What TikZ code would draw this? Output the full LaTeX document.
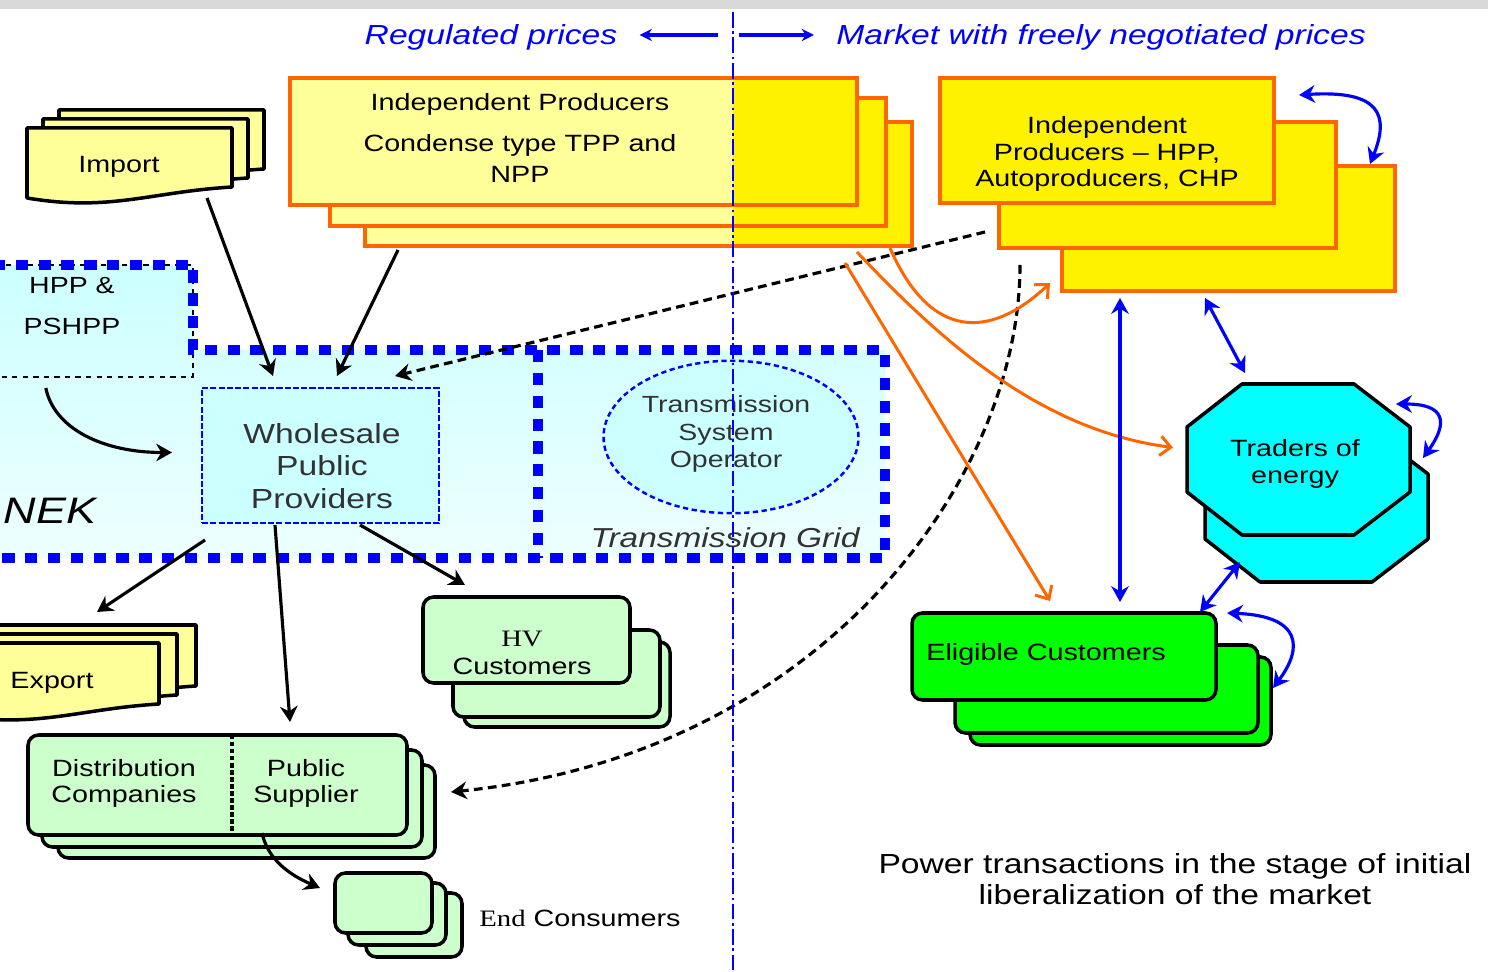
\documentclass[tikz,border=0pt]{standalone}
\usepackage{fontspec}
\setmainfont{Liberation Sans}[FakeStretch=1.22]
\newfontfamily\hvserif{Liberation Serif}[FakeStretch=1.22]
\usetikzlibrary{positioning,arrows.meta,shapes.geometric,calc,fit}

\definecolor{paleyellow}{RGB}{255,255,153}
\definecolor{prodorange}{RGB}{255,102,0}
\definecolor{nekcyan}{RGB}{204,255,255}
\definecolor{palegreen}{RGB}{204,255,204}
\definecolor{brightgreen}{RGB}{0,255,0}
\definecolor{tradecyan}{RGB}{0,255,255}
\definecolor{gridblue}{RGB}{0,0,255}
\definecolor{darktext}{RGB}{50,50,50}

\begin{document}
\begin{tikzpicture}[
  x=0.02cm, y=-0.02cm,
  >=Stealth,
  font=\fontsize{13.4}{15.5}\selectfont,
  txt/.style={inner sep=0pt, align=center},
  hdr/.style={txt, text=gridblue, font=\fontsize{15.7}{18}\selectfont\itshape},
  hdrarrow/.style={-{Stealth[length=7pt,width=7pt]}, line width=2.2pt, gridblue},
  prodbox/.style={draw=prodorange, line width=1.8pt, inner sep=0pt, outer sep=0pt},
  docshape/.style={draw=black, line width=2pt, fill=paleyellow, line join=round},
  lgreen/.style={draw=black, line width=2pt, fill=palegreen, rounded corners=6pt,
                 inner sep=0pt, outer sep=0pt},
  egreen/.style={draw=black, line width=2pt, fill=brightgreen, rounded corners=6pt,
                 inner sep=0pt, outer sep=0pt},
  octo/.style={draw=black, line width=2pt, fill=tradecyan, line join=round},
  nekline/.style={draw=gridblue, line width=5.5pt, dash pattern=on 7pt off 6pt},
  flow/.style={-{Stealth[length=9pt,width=10pt]}, line width=1.8pt},
  dflow/.style={flow, dash pattern=on 5pt off 3pt},
  mktflow/.style={-{Straight Barb[length=6pt,width=11pt]}, line width=1.7pt, prodorange},
  trade/.style={{Stealth[length=9pt,width=10pt]}-{Stealth[length=9pt,width=10pt]},
                line width=1.8pt, gridblue},
]
\useasboundingbox (0,0) rectangle (1488,972);
\fill[black!15] (0,0) rectangle (1488,9);

\coordinate (divtop) at (733,12);
\coordinate (divbot) at (733,975);

% --- Header ---
\node[hdr] (regtext) at (491,37) {Regulated prices};
\node[hdr] (mkttext) at (1101,37) {Market with freely negotiated prices};
\draw[hdrarrow] ($(regtext.east)+(100,-2)$) -- ($(regtext.east)+(22,-2)$);
\draw[hdrarrow] ($(mkttext.west)+(-97,-2)$) -- ($(mkttext.west)+(-22,-2)$);

% --- NEK area ---
\path[top color=nekcyan, bottom color=nekcyan!35]
  (-30,265) -- (193,265) -- (193,350) -- (885,350) -- (885,558) -- (-30,558) -- cycle;
\node[fit={(-30,265) (193,377)}, inner sep=0pt, outer sep=0pt,
      draw=black, line width=1.6pt, dashed] (hpp) {};
\draw[nekline] (-30,265) -- (193,265) -- (193,350) -- (885,350) -- (885,558) -- (-30,558);
\draw[nekline] (538,350) -- (538,558);
\node[txt, font=\fontsize{13.3}{23}\selectfont] (hpptext) at (72,306) {HPP \&\\PSHPP};
\node[txt, font=\fontsize{21}{24}\selectfont\itshape] (nek) at (50,511) {NEK};

\node[fit={(202,388) (439,523)}, inner sep=0pt, outer sep=0pt, draw=gridblue,
      line width=1.6pt, dash pattern=on 3.5pt off 1.2pt, fill=nekcyan] (wpp) {};
\node[txt, text=darktext, font=\fontsize{15.7}{18.4}\selectfont] (wpptext) at (322,466)
  {Wholesale\\Public\\Providers};

\node[ellipse, draw=gridblue, line width=1.4pt, dash pattern=on 3pt off 2pt, fill=nekcyan,
      minimum width=5.1cm, minimum height=3.05cm, inner sep=0pt] (tso) at (731,437) {};
\node[txt, text=darktext, font=\fontsize{13.3}{15.9}\selectfont] (tsotext) at (726,434)
  {Transmission\\System\\Operator};
\node[txt, text=darktext, font=\fontsize{15.6}{18}\selectfont\itshape] (grid) at (725,538)
  {Transmission Grid};

% --- Independent producers, regulated side ---
\foreach \nm/\xa/\ya/\xb/\yb in {iplA/365/122/912/246, iplB/330/98/886/226, iplC/290/78/857/205}{
  \node[prodbox, fill=paleyellow, fit={(\xa,\ya) (\xb,\yb)}] (\nm) {};
  \fill[yellow] (\nm.north west -| divtop) rectangle (\nm.south east);
  \draw[prodorange, line width=1.8pt] (\nm.north west) rectangle (\nm.south east);
}
\node[txt, font=\fontsize{13.4}{17.6}\selectfont] (ipltext) at (520,138)
  {Independent Producers\\[6pt]Condense type TPP and\\NPP};

% --- Independent producers, market side ---
\node[prodbox, fill=yellow, fit={(1062,166) (1395,291)}] (iprA) {};
\node[prodbox, fill=yellow, fit={(999,122) (1336,248)}] (iprB) {};
\node[prodbox, fill=yellow, fit={(940,78) (1274,203)}] (iprC) {};
\node[txt, font=\fontsize{13.4}{15.3}\selectfont] (iprtext) at (1107,154)
  {Independent\\Producers -- HPP,\\Autoproducers, CHP};

% --- Import / Export ---
\foreach \dx/\dy in {32/-18, 16/-9, 0/0}{
  \draw[docshape, shift={(\dx,\dy)}]
    (27,128) -- (232,128) -- (232,187) .. controls (150,192) and (110,212) .. (27,198) -- cycle;
}
\node[txt] (import) at (119,167) {Import};

\foreach \dx/\dy in {37/-18, 18/-9, 0/0}{
  \draw[docshape, shift={(\dx,\dy)}]
    (-46,643) -- (159,643) -- (159,704) .. controls (77,709) and (37,729) .. (-46,715) -- cycle;
}
\node[txt] (export) at (52,683) {Export};

% --- Customers and suppliers ---
\node[lgreen, fit={(464,642) (670,727)}] (hvA) {};
\node[lgreen, fit={(453,630) (660,717)}] (hvB) {};
\node[lgreen, fit={(423,597) (630,683)}] (hvC) {};
\node[txt] (hvtext) at (522,653) {{\hvserif HV}\\Customers};

\node[lgreen, fit={(58,765) (435,858)}] (dsA) {};
\node[lgreen, fit={(42,750) (422,847)}] (dsB) {};
\node[lgreen, fit={(28,735) (407,835)}] (dsC) {};
\draw[line width=2.5pt, dash pattern=on 2.5pt off 1.5pt]
  ($(dsC.north west)+(204,0)$) -- ($(dsC.south west)+(204,0)$);
\node[txt, font=\fontsize{13.4}{14.7}\selectfont] (distco) at (124,783) {Distribution\\Companies};
\node[txt, font=\fontsize{13.4}{14.7}\selectfont] (pubsup) at (306,783) {Public\\Supplier};

\node[lgreen, fit={(366,893) (462,957)}] (ecA) {};
\node[lgreen, fit={(348,883) (446,945)}] (ecB) {};
\node[lgreen, fit={(335,873) (432,933)}] (ecC) {};
\node[txt, anchor=west] (endcons) at (479,918) {{\hvserif End} Consumers};

\node[egreen, fit={(970,657) (1271,745)}] (elA) {};
\node[egreen, fit={(955,645) (1258,733)}] (elB) {};
\node[egreen, fit={(912,613) (1216,700)}] (elC) {};
\node[txt, anchor=west] (eltext) at (926,654) {Eligible Customers};

% --- Traders (octagons) ---
\node[fit={(1205,431) (1428,582)}, inner sep=0pt, outer sep=0pt] (trB) {};
\node[fit={(1187,384) (1410,535)}, inner sep=0pt, outer sep=0pt] (trF) {};
\foreach \nm in {trB,trF}{
  \draw[octo] ($(\nm.north west)+(55,0)$) -- ($(\nm.north east)+(-56,0)$)
    -- ($(\nm.north east)+(0,43)$) -- ($(\nm.south east)+(0,-43)$)
    -- ($(\nm.south east)+(-56,0)$) -- ($(\nm.south west)+(55,0)$)
    -- ($(\nm.south west)+(0,-43)$) -- ($(\nm.north west)+(0,43)$) -- cycle;
}
\node[txt] (trtext) at (1295,464) {Traders of\\energy};

\node[txt, font=\fontsize{15.7}{17.6}\selectfont] (title) at (1175,879)
  {Power transactions in the stage of initial\\liberalization of the market};

% --- Solid flows ---
\draw[flow] ($(import)+(88,31)$) -- ($(wpp.north west)+(71,-12)$);
\draw[flow] ($(iplA.south west)+(33,4)$) -- ($(wpp.north west)+(135,-12)$);
\draw[flow] ($(hpp.south west)!0.34!(hpp.south east)+(0,11)$)
  .. controls +(8,40) and +(-70,0) .. ($(wpp.west)+(-30,-3)$);
\draw[flow] ($(wpp.south west)+(3,17)$) -- ($(export)+(45,-71)$);
\draw[flow] ($(wpp.south west)+(73,2)$) -- ($(dsC.north west)+(262,-13)$);
\draw[flow] ($(wpp.south west)+(158,2)$) -- ($(hvC.north west)+(42,-12)$);
\draw[flow] ($(dsC.south west)+(234,-2)$)
  .. controls +(6,27) and +(-30,-13) .. ($(ecC.north west)+(-15,15)$);

% --- Dashed flows ---
\draw[dflow] ($(iprB.south west)+(-14,-16)$) -- ($(wpp.north east)+(-44,-12)$);
\draw[dflow] ($(iprB.south west)+(21,17)$)
  .. controls +(0,215) and +(369,-37) .. ($(dsA.north east)+(16,27)$);

% --- Market flows ---
\draw[mktflow] ($(iplA.south east)+(-22,2)$)
  .. controls +(40,92) and +(-60,57) .. ($(iprA.south west)+(-12,-8)$);
\draw[mktflow] ($(iplA.south east)+(-55,6)$)
  .. controls +(83,88) and +(-133,-17) .. ($(trF.west)+(-14,-12)$);
\draw[mktflow] ($(iplA.south east)+(-67,17)$) -- ($(elC.north west)+(138,-12)$);

% --- Trading links ---
\draw[trade] ($(iprA.south west)+(58,7)$) -- ($(elC.north west)+(208,-11)$);
\draw[trade] ($(iprA.south west)+(143,7)$) -- ($(trF.north west)+(58,-11)$);
\draw[trade] ($(trB.south west)+(35,-20)$) -- ($(elC.north east)+(-16,-1)$);
\draw[trade] ($(iprB.north east)+(-37,-27)$)
  .. controls +(80,-5) and +(20,-50) .. ($(iprA.north east)+(-25,-2)$);
\draw[trade] ($(trF.north east)+(-14,20)$)
  .. controls +(50,0) and +(25,-35) .. ($(trB.north east)+(-5,27)$);
\draw[trade] ($(elC.north east)+(11,0)$)
  .. controls +(75,3) and +(30,-40) .. ($(elA.north east)+(2,31)$);

% --- Regulated / market divide ---
\draw[gridblue, line width=1.3pt, dash pattern=on 9pt off 2pt on 1.5pt off 2pt] (divtop) -- (divbot);

\end{tikzpicture}
\end{document}
